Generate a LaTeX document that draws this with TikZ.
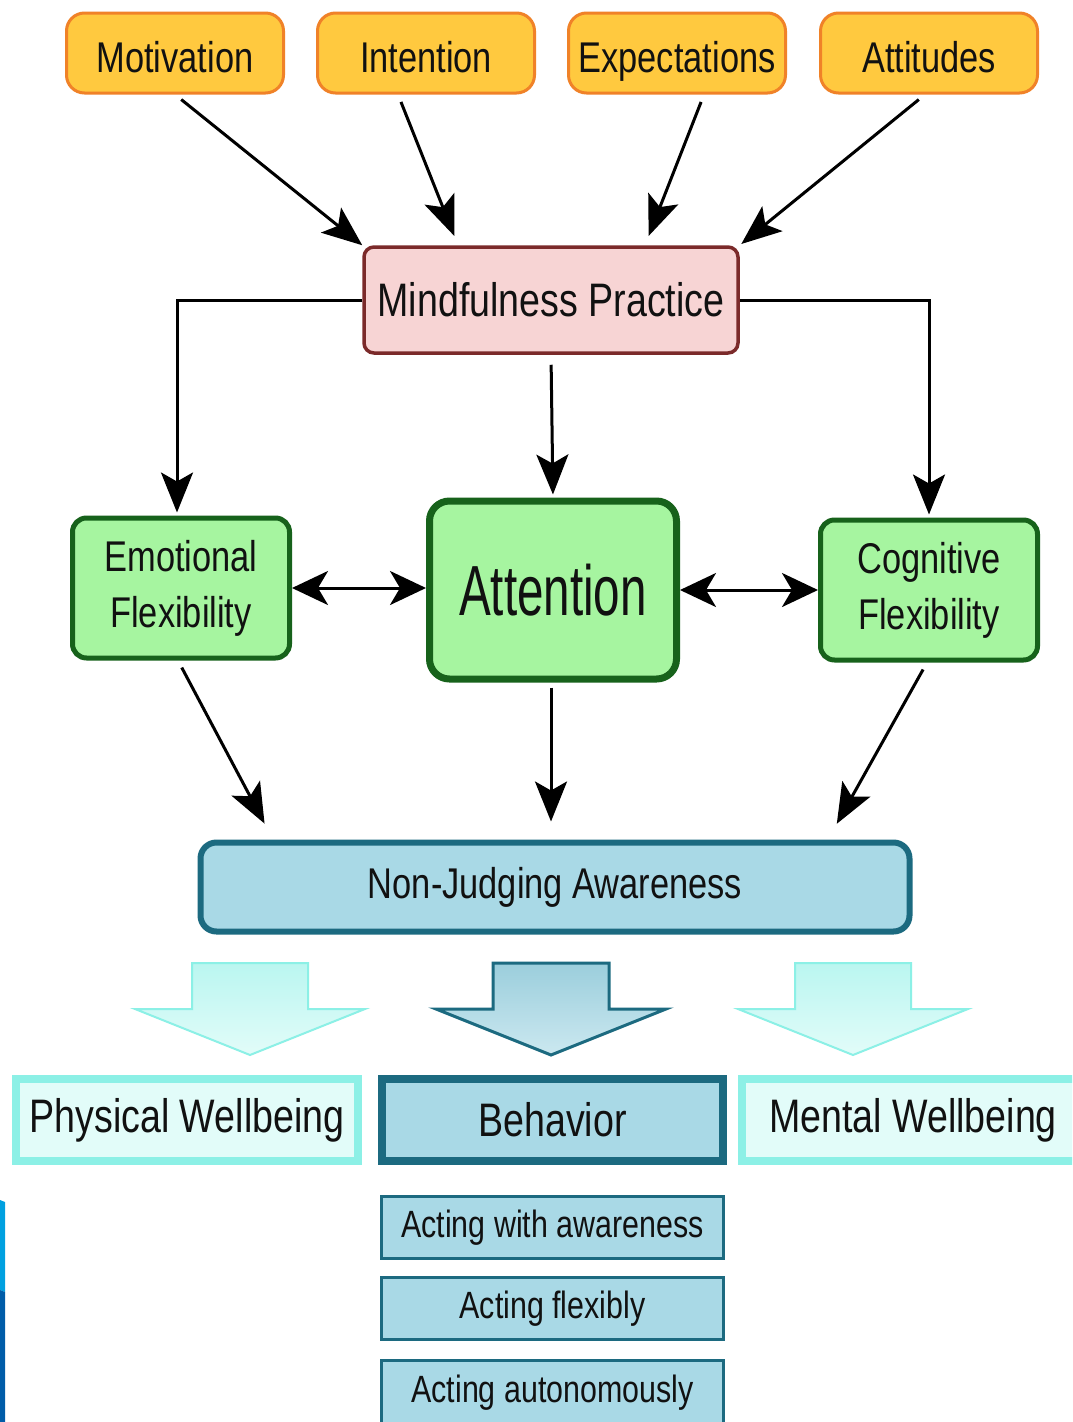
\documentclass[tikz,border=0pt]{standalone}
\usepackage{fontspec}
\setmainfont{Liberation Sans}[FakeStretch=0.8]
\newfontfamily\tallfont{Liberation Sans}[FakeStretch=0.67]
\usetikzlibrary{arrows.meta}

\definecolor{inktext}{HTML}{111111}
\definecolor{goldfill}{HTML}{FFC93F}
\definecolor{goldline}{HTML}{F08228}
\definecolor{pinkfill}{HTML}{F7D4D4}
\definecolor{pinkline}{HTML}{7B2A2A}
\definecolor{leaffill}{HTML}{A6F5A0}
\definecolor{leafline}{HTML}{17621B}
\definecolor{skyfill}{HTML}{A9D9E6}
\definecolor{skyline}{HTML}{1C6A80}
\definecolor{mintfill}{HTML}{E2FCF9}
\definecolor{mintline}{HTML}{8CF0E6}
\definecolor{edgeblue}{HTML}{00A0E0}
\definecolor{edgenavy}{HTML}{005CA8}

\tikzset{%
  every node/.style={
    text=inktext, align=center, inner sep=2pt,
    font=\fontsize{43}{56}\selectfont
  },
  topbox/.style={draw=goldline, fill=goldfill, line width=3pt,
    rounded corners=18pt, minimum width=217pt, minimum height=80pt,
    text height=38pt, text depth=0pt},
  practicebox/.style={draw=pinkline, fill=pinkfill, line width=3.5pt,
    rounded corners=10pt, minimum width=374pt, minimum height=106pt,
    font=\fontsize{47}{56}\selectfont},
  flexbox/.style={draw=leafline, fill=leaffill, line width=5pt,
    rounded corners=14pt, minimum width=217pt, minimum height=140pt},
  focusbox/.style={draw=leafline, fill=leaffill, line width=7pt,
    rounded corners=20pt, minimum width=247pt, minimum height=178pt,
    font=\tallfont\fontsize{71}{80}\selectfont},
  awarebox/.style={draw=skyline, fill=skyfill, line width=6pt,
    rounded corners=16pt, minimum width=709pt, minimum height=89pt},
  palebox/.style={draw=mintline, fill=mintfill, line width=8pt,
    minimum width=342pt, minimum height=82pt,
    font=\fontsize{47}{56}\selectfont},
  deepbox/.style={draw=skyline, fill=skyfill, line width=8pt,
    minimum width=341pt, minimum height=82pt,
    font=\fontsize{47}{56}\selectfont},
  actbox/.style={draw=skyline, fill=skyfill, line width=3pt,
    minimum width=342pt, minimum height=62pt,
    font=\fontsize{38}{44}\selectfont},
  arr/.style={line width=3pt,
    -{Stealth[length=40pt, width=32pt, inset=9pt]}},
  dblarr/.style={line width=3pt,
    {Stealth[length=36pt, width=34pt, inset=10pt]}-{Stealth[length=36pt, width=34pt, inset=10pt]}},
  softarrow/.style={draw=mintline, line width=2pt,
    top color=mintline!60, bottom color=mintfill},
  deeparrow/.style={draw=skyline, line width=3pt,
    top color=skyfill!90!skyline, bottom color=skyfill!60}
}

\begin{document}
\begin{tikzpicture}[x=1pt, y=-1pt]
  \clip (0,0) rectangle (1072,1422);
  \fill[white] (0,0) rectangle (1072,1422);

  % influences
  \node[topbox] (motiv) at (175,53) {Motivation};
  \node[topbox] (inten) at (426,53) {Intention};
  \node[topbox] (expec) at (677,53) {Expectations};
  \node[topbox] (attit) at (929,53) {Attitudes};

  \node[practicebox] (mind) at (551,300) {Mindfulness Practice};

  % middle row
  \node[flexbox] (emo) at (181,588) {Emotional\\Flexibility};
  \node[focusbox] (atten) at (553,590) {Attention};
  \node[flexbox] (cog) at (929,590) {Cognitive\\Flexibility};

  \node[awarebox] (judge) at (555,887) {Non-Judging Awareness};

  \draw[arr, shorten <=8pt] (motiv.south) -- (mind.north west);
  \draw[arr, shorten <=8pt, shorten >=10pt] ([xshift=-28pt]inten.south) -- ([xshift=-93pt]mind.north);
  \draw[arr, shorten <=8pt, shorten >=10pt] ([xshift=27pt]expec.south) -- ([xshift=94pt]mind.north);
  \draw[arr, shorten <=8pt, shorten >=2pt] ([xshift=-4pt]attit.south) -- (mind.north east);

  \draw[arr, shorten >=3pt] (mind.west) -| ([xshift=-4pt]emo.north);
  \draw[arr, shorten >=3pt] (mind.east) -| (cog.north);
  \draw[arr, shorten <=10pt, shorten >=3pt] (mind.south) -- (atten.north);

  \draw[dblarr] (emo.east) -- (emo.east -| atten.west);
  \draw[dblarr] (atten.east) -- (atten.east -| cog.west);

  \draw[arr, shorten <=8pt, shorten >=18pt] ([xshift=-3pt]emo.south) -- ([xshift=-282pt]judge.north);
  \draw[arr, shorten <=5pt, shorten >=18pt] ([xshift=-2pt]atten.south) -- ([xshift=-4pt]judge.north);
  \draw[arr, shorten <=8pt, shorten >=18pt] ([xshift=-2pt]cog.south) -- ([xshift=273pt]judge.north);

  % outcomes
  \foreach \cx/\kind in {250/softarrow, 551/deeparrow, 853/softarrow}
    \draw[\kind] (\cx-58,963) -- (\cx+58,963) -- (\cx+58,1009) -- (\cx+115,1009)
      -- (\cx,1055) -- (\cx-115,1009) -- (\cx-58,1009) -- cycle;

  \node[palebox] (phys) at (187,1120) {Physical Wellbeing};
  \node[deepbox] (behav) at (552.5,1120) {Behavior};
  \node[palebox] (mental) at (913,1120) {Mental Wellbeing};

  \node[actbox] (aware) at (552.5,1227.5) {Acting with awareness};
  \node[actbox] (flex) at (552.5,1308.5) {Acting flexibly};
  \node[actbox, minimum height=66pt] (auto) at (552.5,1393) {Acting autonomously};

  \fill[edgeblue] (0,1200) -- (5,1202) -- (5,1292) -- (0,1290) -- cycle;
  \fill[edgenavy] (0,1290) -- (5,1292) -- (5,1422) -- (0,1422) -- cycle;
\end{tikzpicture}
\end{document}
